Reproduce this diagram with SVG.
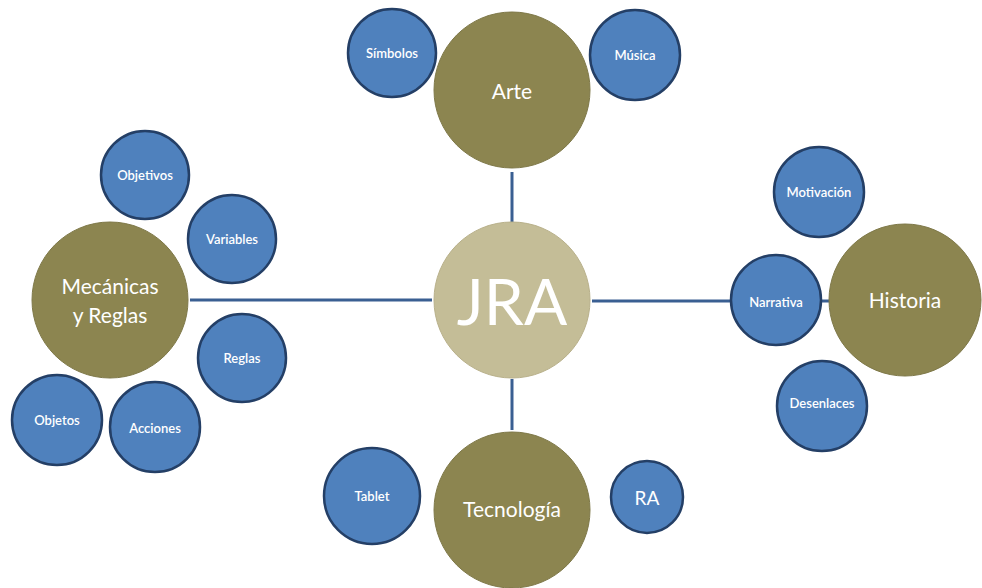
<svg xmlns="http://www.w3.org/2000/svg" width="982" height="588" viewBox="0 0 982 588">
<style>
.big{fill:#8C8550;stroke:#7E7848;stroke-width:1}
.core{fill:#C4BD97;stroke:#B8B08A;stroke-width:1}
.small{fill:#4F81BD;stroke:#243F66;stroke-width:2.5}
.conn{stroke:#3A5F92;stroke-width:3;fill:none}
text{font-family:Lato,"Open Sans","Liberation Sans",sans-serif;fill:#FFFFFF;text-anchor:middle;dominant-baseline:central}
.s{font-size:13px;font-weight:600}
.b{font-size:21px}
</style>
<rect width="982" height="588" fill="#FFFFFF"/>
<g id="connectors">
<line class="conn" x1="512" y1="172" x2="512" y2="222"/>
<line class="conn" x1="512" y1="379" x2="512" y2="430"/>
<line class="conn" x1="190" y1="300" x2="432" y2="300"/>
<line class="conn" x1="592" y1="301" x2="830" y2="301"/>
</g>
<g id="arte"><circle class="big" cx="512" cy="90" r="78"/><text class="b" x="512" y="90">Arte</text></g>
<g id="simbolos"><circle class="small" cx="392" cy="53" r="44"/><text class="s" x="392" y="53">Símbolos</text></g>
<g id="musica"><circle class="small" cx="635" cy="55" r="45"/><text class="s" x="635" y="55">Música</text></g>
<g id="jra"><circle class="core" cx="512" cy="300" r="78"/><text x="512" y="300" font-size="64">JRA</text></g>
<g id="mecanicas"><circle class="big" cx="110" cy="300" r="78"/><text class="b" x="110" y="285">Mecánicas</text><text class="b" x="110" y="314">y Reglas</text></g>
<g id="objetivos"><circle class="small" cx="145" cy="175" r="44"/><text class="s" x="145" y="175">Objetivos</text></g>
<g id="variables"><circle class="small" cx="232" cy="239" r="44"/><text class="s" x="232" y="239">Variables</text></g>
<g id="reglas"><circle class="small" cx="242" cy="358" r="44"/><text class="s" x="242" y="358">Reglas</text></g>
<g id="objetos"><circle class="small" cx="57" cy="420" r="45"/><text class="s" x="57" y="420">Objetos</text></g>
<g id="acciones"><circle class="small" cx="155" cy="427" r="45"/><text class="s" x="155" y="428">Acciones</text></g>
<g id="historia"><circle class="big" cx="905" cy="300" r="76"/><text class="b" x="905" y="299">Historia</text></g>
<g id="narrativa"><circle class="small" cx="776" cy="300" r="45"/><text class="s" x="776" y="302">Narrativa</text></g>
<g id="motivacion"><circle class="small" cx="819" cy="192" r="45"/><text class="s" x="819" y="192">Motivación</text></g>
<g id="desenlaces"><circle class="small" cx="822" cy="406" r="45"/><text class="s" x="822" y="403">Desenlaces</text></g>
<g id="tecnologia"><circle class="big" cx="512" cy="510" r="78"/><text class="b" x="512" y="508">Tecnología</text></g>
<g id="tablet"><circle class="small" cx="372" cy="496" r="48"/><text class="s" x="372" y="496">Tablet</text></g>
<g id="ra"><circle class="small" cx="647" cy="497" r="36"/><text x="647" y="497" font-size="19">RA</text></g>
</svg>
